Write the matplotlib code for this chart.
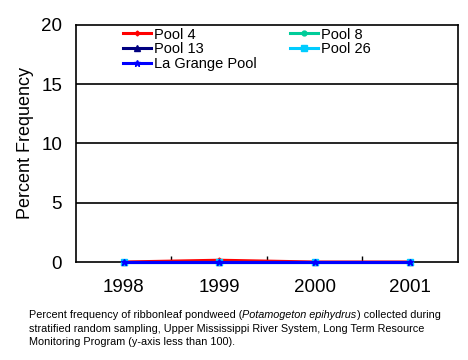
import matplotlib
matplotlib.use("Agg")
import matplotlib.pyplot as plt
import numpy as np

plt.rcParams['font.family'] = ['Liberation Sans', 'DejaVu Sans']

# data
years = ['1998', '1999', '2000', '2001']
pool4 = [0, 0.15, 0, 0]
pool8 = [0, 0, 0, 0]
pool13 = [0, 0, 0, 0]
pool26 = [0, 0, 0, 0]
lagrange = [0, 0, 0, 0]

series = [
    ("Pool 4", pool4, '#FF0000', 'D', 2.5),
    ("Pool 8", pool8, '#00CC99', 'o', 3.5),
    ("Pool 13", pool13, '#000080', '^', 4),
    ("Pool 26", pool26, '#00CCFF', 's', 5),
    ("La Grange Pool", lagrange, '#0000FF', '*', 4.5),
]

fig = plt.figure(figsize=(4.68, 3.6), dpi=100)
ax = fig.add_axes([0.1624, 0.2722, 0.8162, 0.6584])

x = np.arange(len(years))
handles = {}
for name, vals, col, mk, ms in series:
    h, = ax.plot(x, vals, color=col, marker=mk, markersize=ms, lw=2.2,
                 label=name, clip_on=False, zorder=3)
    handles[name] = h

ax.set_xlim(-0.5, len(years) - 0.5)
ax.set_ylim(0, 20)
ax.set_yticks([0, 5, 10, 15, 20])
for yv in [5, 10, 15]:
    ax.axhline(yv, color='black', lw=1.2, zorder=1)

ax.set_xticks(x)
ax.set_xticklabels(years, fontsize=13.5)
ax.set_xticks(np.arange(0.5, len(years) - 0.5, 1), minor=True)
ax.tick_params(axis='x', which='major', length=0, pad=12)
ax.tick_params(axis='x', which='minor', direction='in', length=4, width=1)
ax.tick_params(axis='y', length=0, labelsize=13.5, pad=10)
for sp in ax.spines.values():
    sp.set_linewidth(1.2)

ax.set_ylabel("Percent Frequency", fontsize=13, labelpad=5)

# legend fills row by row in the reference
order = ["Pool 4", "Pool 13", "La Grange Pool", "Pool 8", "Pool 26"]
ax.legend([handles[n] for n in order], order, loc='upper left',
          bbox_to_anchor=(0.105, 1.02), ncol=2, frameon=False,
          fontsize=10.5, handlelength=1.9, handletextpad=0.2, labelspacing=0.05,
          columnspacing=2.3, borderaxespad=0.1)

cap = dict(fontsize=7.8, va='top', ha='left')
t1 = fig.text(0.062, 0.138, "Percent frequency of ribbonleaf pondweed (", **cap)
t2 = ax.annotate("Potamogeton epihydrus", xy=(1, 0), xycoords=t1, va='bottom',
                 ha='left', fontsize=7.8, style='italic', annotation_clip=False)
ax.annotate(") collected during", xy=(1, 0), xycoords=t2, va='bottom',
            ha='left', fontsize=7.8, annotation_clip=False)
fig.text(0.062, 0.101, "stratified random sampling, Upper Mississippi River System, Long Term Resource", **cap)
fig.text(0.062, 0.064, "Monitoring Program (y-axis less than 100).", **cap)

fig.savefig("out.png", dpi=100)
